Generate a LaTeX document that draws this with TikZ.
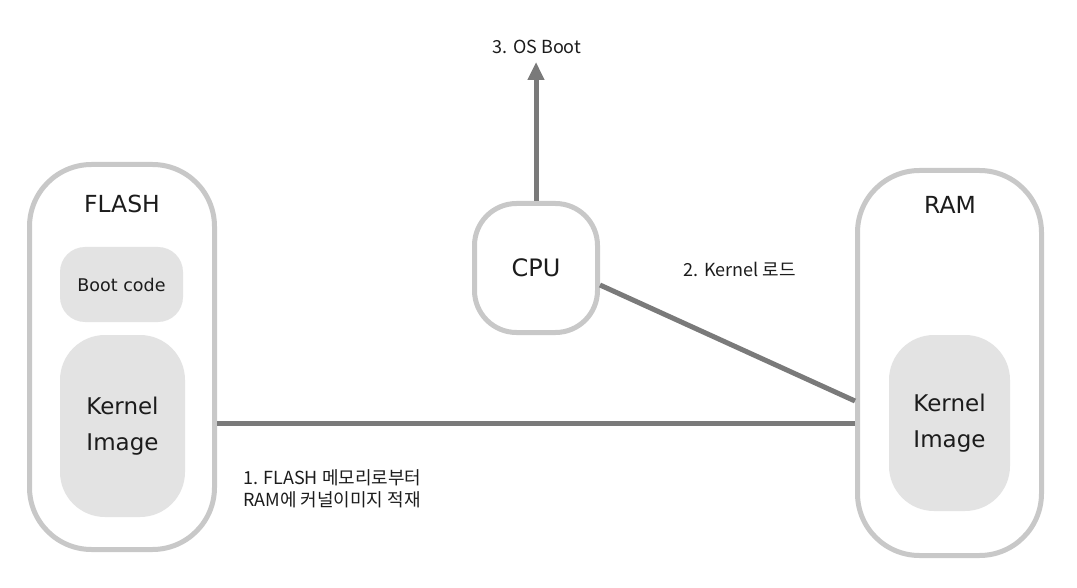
\documentclass[tikz,border=0pt]{standalone}
\usepackage{fontspec}
\setmainfont{Noto Sans CJK KR}
\newfontfamily\boxfont{DejaVu Sans}
\usetikzlibrary{arrows.meta,calc}
\definecolor{bordergray}{HTML}{C8C8C8}
\definecolor{fillgray}{HTML}{E3E3E3}
\definecolor{linegray}{HTML}{7A7A7A}
\definecolor{txt}{HTML}{1C1C1C}
\begin{document}
\begin{tikzpicture}[x=1pt,y=-1pt,
  outerbox/.style={draw=bordergray,line width=5pt,fill=white,rounded corners=62pt,inner sep=0pt},
  cpubox/.style={draw=bordergray,line width=5pt,fill=white,rounded corners=42pt,inner sep=0pt,font=\boxfont\fontsize{24}{28}\selectfont,text=txt},
  innerbox/.style={fill=fillgray,inner sep=0pt,align=center,text=txt},
  lbl/.style={text=txt,inner sep=0pt},
  conn/.style={draw=linegray,line width=5pt}
]
\useasboundingbox (0,0) rectangle (1077,588);
% outer memory boxes
\node[outerbox,minimum width=185pt,minimum height=385pt] (flash) at (122,357) {};
\node[outerbox,minimum width=184pt,minimum height=385pt] (ram) at (949.5,363) {};
\node[cpubox,minimum width=123pt,minimum height=129pt] (cpu) at (536,268) {CPU};
% titles
\node[lbl,font=\boxfont\fontsize{23.5}{28}\selectfont] (flasht) at (122,204) {FLASH};
\node[lbl,font=\boxfont\fontsize{23.5}{28}\selectfont] (ramt) at (950,205) {RAM};
% inner boxes
\node[innerbox,rounded corners=25pt,minimum width=123pt,minimum height=75pt,font=\boxfont\fontsize{17.5}{20}\selectfont] (boot) at (121.5,284.5) {Boot code};
\node[innerbox,rounded corners=45pt,minimum width=125pt,minimum height=182pt,font=\boxfont\fontsize{23}{36}\selectfont] (fk) at (122.5,426) {Kernel\\Image};
\node[innerbox,rounded corners=45pt,minimum width=121pt,minimum height=176pt,font=\boxfont\fontsize{23}{36}\selectfont] (rk) at (949.5,423) {Kernel\\Image};
% labels
\node[lbl,font=\fontsize{18}{21}\selectfont] (osboot) at (537,47) {3. OS Boot};
\node[lbl,font=\fontsize{18}{21}\selectfont] (kload) at (740,269) {2. Kernel 로드};
\node[lbl,font=\fontsize{18}{22}\selectfont,align=left,anchor=north west] (copy) at (243,469) {1. FLASH 메모리로부터\\RAM에 커널이미지 적재};
% connector end points
\coordinate (tip) at (536,62);
\coordinate (cpuout) at ($(cpu.east)+(0,17)$);
\coordinate (ramin) at (ram.west |- 0,401);
% connectors
\draw[conn] (flash.east |- rk.center) -- (ram.west |- rk.center);
\draw[conn] (cpuout) -- (ramin);
\draw[conn,-{Triangle[width=16pt,length=18pt]}] (cpu.north) -- (tip);
\end{tikzpicture}
\end{document}
